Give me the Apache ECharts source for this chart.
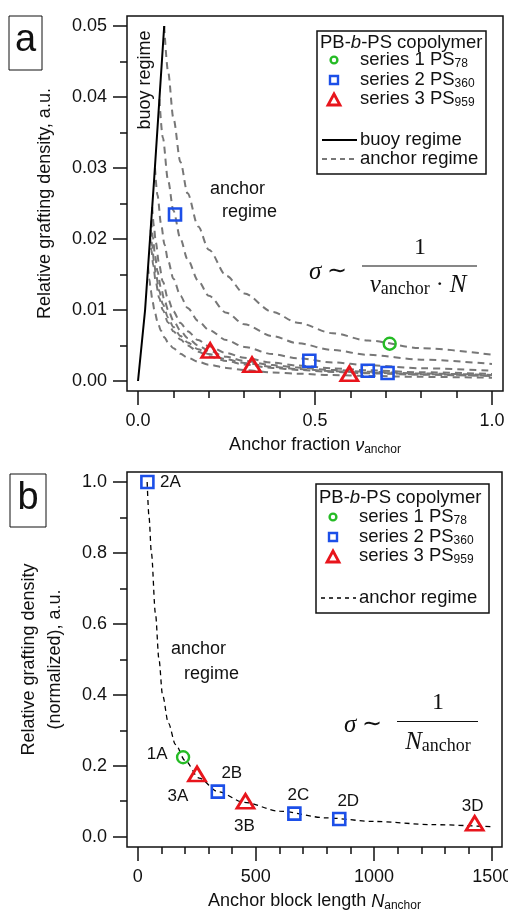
<!DOCTYPE html>
<html>
<head>
<meta charset="utf-8">
<script src="https://cdn.jsdelivr.net/npm/echarts@6/dist/echarts.min.js"></script>
<style>
  html, body { margin: 0; padding: 0; background: #fff; }
  #main { width: 508px; height: 912px; }
</style>
</head>
<body>
<div id="main"></div>
<script>
// ---- panel a data (anchor fraction vs grafting density) ----
var aSeries1 = [[0.711, 0.00525]];
var aSeries2 = [[0.1045, 0.02345], [0.484, 0.00286], [0.649, 0.00145], [0.705, 0.00113]];
var aSeries3 = [[0.204, 0.0043], [0.322, 0.0023], [0.597, 0.00103]];
var aBuoy = [[0, 0], [0.02, 0.01], [0.045, 0.028], [0.074, 0.05]];
// dashed anchor-regime curves
var aCurve1 = [[0.074,0.05],[0.085,0.04353],[0.1,0.037],[0.12,0.03083],[0.14,0.02643],[0.17,0.02176],[0.2,0.0185],[0.25,0.0148],[0.3,0.01233],[0.38,0.00974],[0.45,0.00822],[0.55,0.00673],[0.65,0.00569],[0.8,0.00463],[1.0,0.0037]];
var aCurve2 = [[0.0605,0.0397],[0.07,0.03429],[0.085,0.02824],[0.1,0.024],[0.12,0.02],[0.14,0.01714],[0.17,0.01412],[0.2,0.012],[0.25,0.0096],[0.3,0.008],[0.38,0.00632],[0.45,0.00533],[0.55,0.00436],[0.65,0.00369],[0.8,0.003],[1.0,0.0024]];
var aCurve3 = [[0.048,0.030],[0.055,0.02618],[0.065,0.02215],[0.075,0.0192],[0.085,0.01694],[0.1,0.0144],[0.12,0.012],[0.14,0.01029],[0.17,0.00847],[0.2,0.0072],[0.25,0.00576],[0.3,0.0048],[0.38,0.00379],[0.45,0.0032],[0.55,0.00262],[0.65,0.00222],[0.8,0.0018],[1.0,0.00144]];
var aCurve4 = [[0.040,0.0245],[0.045,0.02178],[0.05,0.0196],[0.06,0.01633],[0.07,0.014],[0.085,0.01153],[0.1,0.0098],[0.12,0.00817],[0.14,0.007],[0.17,0.00576],[0.2,0.0049],[0.25,0.00392],[0.3,0.00327],[0.38,0.00258],[0.45,0.00218],[0.55,0.00178],[0.65,0.00151],[0.8,0.00123],[1.0,0.00098]];
var aCurve5 = [[0.0375,0.0226],[0.042,0.02024],[0.048,0.01771],[0.055,0.01545],[0.065,0.01308],[0.075,0.01133],[0.085,0.01],[0.1,0.0085],[0.12,0.00708],[0.14,0.00607],[0.17,0.005],[0.2,0.00425],[0.25,0.0034],[0.3,0.00283],[0.38,0.00224],[0.45,0.00189],[0.55,0.00155],[0.65,0.00131],[0.8,0.00106],[1.0,0.00085]];
var aCurve6 = [[0.0357,0.0213],[0.04,0.019],[0.045,0.01689],[0.05,0.0152],[0.06,0.01267],[0.07,0.01086],[0.085,0.00894],[0.1,0.0076],[0.12,0.00633],[0.14,0.00543],[0.17,0.00447],[0.2,0.0038],[0.25,0.00304],[0.3,0.00253],[0.38,0.002],[0.45,0.00169],[0.55,0.00138],[0.65,0.00117],[0.8,0.00095],[1.0,0.00076]];
var aCurve7 = [[0.0344,0.0204],[0.038,0.01842],[0.043,0.01628],[0.05,0.014],[0.06,0.01167],[0.07,0.01],[0.085,0.00824],[0.1,0.007],[0.12,0.00583],[0.14,0.005],[0.17,0.00412],[0.2,0.0035],[0.25,0.0028],[0.3,0.00233],[0.38,0.00184],[0.45,0.00156],[0.55,0.00127],[0.65,0.00108],[0.8,0.00088],[1.0,0.0007]];
var aCurve8 = [[0.0285,0.0161],[0.032,0.01438],[0.036,0.01278],[0.041,0.01122],[0.047,0.00979],[0.055,0.00836],[0.065,0.00708],[0.075,0.00613],[0.085,0.00541],[0.1,0.0046],[0.12,0.00383],[0.14,0.00329],[0.17,0.00271],[0.2,0.0023],[0.25,0.00184],[0.3,0.00153],[0.38,0.00121],[0.45,0.00102],[0.55,0.00084],[0.65,0.00071],[0.8,0.00058],[1.0,0.00046]];
var aCurves = [aCurve1, aCurve2, aCurve3, aCurve4, aCurve5, aCurve6, aCurve7, aCurve8];

var aXTicks = [0, 0.5, 1.0];
var aXMinor = [0.1, 0.2, 0.3, 0.4, 0.6, 0.7, 0.8, 0.9];
var aYTicks = [0, 0.01, 0.02, 0.03, 0.04, 0.05];
var aYMinor = [0.005, 0.015, 0.025, 0.035, 0.045];

// ---- panel b data (anchor block length vs normalised density) ----
var bSeries1 = [[192, 0.224]];
var bSeries2 = [[41, 1.0], [339, 0.127], [663, 0.065], [853, 0.050]];
var bSeries3 = [[251, 0.177], [456, 0.100], [1426, 0.038]];
var bNames1 = ['1A'];
var bNames2 = ['2A', '2B', '2C', '2D'];
var bNames3 = ['3A', '3B', '3D'];
var bCurve = [[40,1.0],[48,0.9],[58,0.8],[75,0.63],[90,0.5],[105,0.4],[130,0.32],[160,0.26],[200,0.215],[260,0.165],[340,0.127],[450,0.097],[600,0.072],[800,0.053],[1000,0.043],[1250,0.034],[1500,0.028]];

var bXTicks = [0, 500, 1000, 1500];
var bXMinor = [100, 200, 300, 400, 600, 700, 800, 900, 1100, 1200, 1300, 1400];
var bYTicks = [0, 0.2, 0.4, 0.6, 0.8, 1.0];
var bYMinor = [0.1, 0.3, 0.5, 0.7, 0.9];

var FONT = 'Liberation Sans';
var SERIF = 'Liberation Serif';
var INK = '#111';
var GREEN = '#25bb25', BLUE = '#1c4fe8', RED = '#e8151c';

var chart = echarts.init(document.getElementById('main'));

function majorAxis(grid, min, max, ticks, digits, pos, margin) {
  return {
    type: 'value', gridIndex: grid, min: min, max: max, position: pos,
    axisLine: { show: false, onZero: false }, splitLine: { show: false },
    axisTick: { show: true, customValues: ticks, length: 14, lineStyle: { color: INK, width: 1.5 } },
    axisLabel: {
      customValues: ticks, color: INK, fontFamily: FONT, fontSize: 18, margin: margin,
      formatter: function (v) { return digits < 0 ? String(Math.round(v)) : v.toFixed(digits); }
    }
  };
}
function minorAxis(grid, min, max, ticks, pos) {
  return {
    type: 'value', gridIndex: grid, min: min, max: max, position: pos,
    axisLine: { show: false, onZero: false }, splitLine: { show: false }, axisLabel: { show: false },
    axisTick: { show: true, customValues: ticks, length: 7, lineStyle: { color: INK, width: 1.5 } }
  };
}

var subRich = {
  i: { fontStyle: 'italic', fontSize: 18, fontFamily: FONT, color: INK },
  s: { fontSize: 12, fontFamily: FONT, color: INK, verticalAlign: 'bottom', padding: [9, 0, 0, 0] }
};

var xa0 = majorAxis(0, -0.0311, 1.0311, aXTicks, 1, 'bottom', 21);
xa0.name = 'Anchor fraction {i|ν}{s|anchor}';
xa0.nameLocation = 'middle'; xa0.nameGap = 44;
xa0.nameTextStyle = { fontFamily: FONT, fontSize: 18, color: INK, rich: subRich };
var ya0 = majorAxis(0, -0.00141, 0.05141, aYTicks, 2, 'left', 20);
ya0.name = 'Relative grafting density, a.u.';
ya0.nameLocation = 'middle'; ya0.nameGap = 73;
ya0.nameTextStyle = { fontFamily: FONT, fontSize: 18, color: INK };

var xa1 = majorAxis(1, -45.3, 1541.7, bXTicks, -1, 'bottom', 21);
xa1.name = 'Anchor block length {i|N}{s|anchor}';
xa1.nameLocation = 'middle'; xa1.nameGap = 44;
xa1.nameTextStyle = { fontFamily: FONT, fontSize: 18, color: INK, rich: subRich };
var ya1 = majorAxis(1, -0.029, 1.0282, bYTicks, 1, 'left', 20);
ya1.name = 'Relative grafting density\n(normalized), a.u.';
ya1.nameLocation = 'middle'; ya1.nameGap = 59;
ya1.nameTextStyle = { fontFamily: FONT, fontSize: 18, color: INK, lineHeight: 26 };

function marker(kind) {
  if (kind === 1) return { symbol: 'circle', symbolSize: 12, itemStyle: { color: 'rgba(0,0,0,0)', opacity: 1, borderColor: GREEN, borderWidth: 2.4 } };
  if (kind === 2) return { symbol: 'rect', symbolSize: 12, itemStyle: { color: 'rgba(0,0,0,0)', opacity: 1, borderColor: BLUE, borderWidth: 2.6 } };
  return { symbol: 'triangle', symbolSize: [17, 14], itemStyle: { color: 'rgba(0,0,0,0)', opacity: 1, borderColor: RED, borderWidth: 2.8 } };
}
function scatter(grid, data, kind, names, offsets) {
  var m = marker(kind);
  return {
    type: 'scatter', xAxisIndex: grid * 2, yAxisIndex: grid * 2, z: 5,
    symbol: m.symbol, symbolSize: m.symbolSize, itemStyle: m.itemStyle,
    data: data.map(function (d, i) {
      var item = { value: d };
      if (names) {
        item.label = { show: true, formatter: names[i], position: 'inside', offset: offsets[names[i]],
          color: INK, fontFamily: FONT, fontSize: 17, textBorderWidth: 0 };
      }
      return item;
    })
  };
}
var labelOffsets = {
  '2A': [23, 0], '1A': [-26, -3], '3A': [-19, 22], '2B': [14, -18], '3B': [-1, 25],
  '2C': [4, -18], '2D': [9, -18], '3D': [-2, -17]
};

var series = [];
series.push({
  type: 'line', xAxisIndex: 0, yAxisIndex: 0, data: aBuoy, symbol: 'none', z: 3,
  lineStyle: { color: '#000', width: 2 }
});
aCurves.forEach(function (c) {
  series.push({
    type: 'line', xAxisIndex: 0, yAxisIndex: 0, data: c, symbol: 'none', smooth: 0.3, smoothMonotone: 'x', z: 2,
    lineStyle: { color: '#777', width: 2, type: [7, 5] }
  });
});
series.push(scatter(0, aSeries1, 1));
series.push(scatter(0, aSeries2, 2));
series.push(scatter(0, aSeries3, 3));
series.push({
  type: 'line', xAxisIndex: 2, yAxisIndex: 2, data: bCurve, symbol: 'none', smooth: 0.3, smoothMonotone: 'x', z: 2,
  lineStyle: { color: '#000', width: 1.3, type: [5, 4] }
});
series.push(scatter(1, bSeries1, 1, bNames1, labelOffsets));
series.push(scatter(1, bSeries2, 2, bNames2, labelOffsets));
series.push(scatter(1, bSeries3, 3, bNames3, labelOffsets));

// ---- legend boxes, panel letters, formulas and notes ----
function txt(x, y, text, opt) {
  opt = opt || {};
  return {
    type: 'text', x: x, y: y, rotation: opt.rotation || 0, z: 10,
    style: {
      text: text, fill: INK, fontFamily: opt.family || FONT, fontSize: opt.size || 18,
      fontStyle: opt.italic ? 'italic' : 'normal',
      align: opt.align || 'left', verticalAlign: 'middle', rich: opt.rich
    }
  };
}
var legRich = {
  i: { fontStyle: 'italic', fontSize: 18.5, fontFamily: FONT, fill: INK },
  s: { fontSize: 12, fontFamily: FONT, fill: INK, verticalAlign: 'bottom', padding: [8, 0, 0, 0] }
};
function legendMarks(x, y0, dy) {
  return [
    { type: 'circle', shape: { cx: x, cy: y0, r: 3.4 }, style: { fill: 'none', stroke: GREEN, lineWidth: 2.4 }, z: 10 },
    { type: 'rect', shape: { x: x - 4, y: y0 + dy - 4, width: 8, height: 8 }, style: { fill: 'none', stroke: BLUE, lineWidth: 2.4 }, z: 10 },
    { type: 'polygon', shape: { points: [[x, y0 + 2 * dy - 6], [x + 6, y0 + 2 * dy + 5], [x - 6, y0 + 2 * dy + 5]] }, style: { fill: 'none', stroke: RED, lineWidth: 2.8 }, z: 10 }
  ];
}
function legendBox(x, y, w, h, rows, lines) {
  var g = [{ type: 'rect', shape: { x: x, y: y, width: w, height: h }, style: { fill: '#fff', stroke: INK, lineWidth: 1.5 }, z: 9 }];
  g.push(txt(x + 3, rows[0], 'PB-{i|b}-PS copolymer', { size: 18.5, rich: legRich }));
  g.push(txt(x + 43, rows[1], 'series 1 PS{s|78}', { size: 18.5, rich: legRich }));
  g.push(txt(x + 43, rows[2], 'series 2 PS{s|360}', { size: 18.5, rich: legRich }));
  g.push(txt(x + 43, rows[3], 'series 3 PS{s|959}', { size: 18.5, rich: legRich }));
  g = g.concat(legendMarks(x + 17, rows[1], rows[2] - rows[1]));
  lines.forEach(function (l) {
    g.push({ type: 'line', shape: { x1: x + 5, y1: l.y, x2: x + 40, y2: l.y }, z: 10,
      style: { stroke: l.color, lineWidth: l.width, lineDash: l.dash } });
    g.push(txt(x + 43, l.y, l.text, { size: 18.5 }));
  });
  return g;
}

var graphics = [];
// panel letters
graphics.push({ type: 'rect', shape: { x: 9, y: 16, width: 33, height: 54 }, style: { fill: '#fff', stroke: INK, lineWidth: 1 }, z: 9 });
graphics.push(txt(25.5, 41, 'a', { size: 38, align: 'center' }));
graphics.push({ type: 'rect', shape: { x: 10, y: 474, width: 36, height: 53 }, style: { fill: '#fff', stroke: INK, lineWidth: 1 }, z: 9 });
graphics.push(txt(28, 499, 'b', { size: 38, align: 'center' }));
// legends
graphics = graphics.concat(legendBox(317, 31, 169, 143, [43, 60, 80, 99], [
  { y: 140, text: 'buoy regime', color: '#000', width: 2, dash: null },
  { y: 159, text: 'anchor regime', color: '#777', width: 2, dash: [5, 4] }
]));
graphics = graphics.concat(legendBox(316, 484, 173, 129, [498, 517, 537, 556], [
  { y: 598, text: 'anchor regime', color: '#000', width: 1.3, dash: [4, 4] }
]));
// notes
graphics.push(txt(145, 80, 'buoy regime', { rotation: Math.PI / 2, align: 'center', size: 18 }));
graphics.push(txt(210, 189, 'anchor', { size: 18 }));
graphics.push(txt(222, 212, 'regime', { size: 18 }));
graphics.push(txt(171, 649, 'anchor', { size: 18 }));
graphics.push(txt(184, 674, 'regime', { size: 18 }));
// formulas
var mathRich = {
  i: { fontStyle: 'italic', fontFamily: SERIF, fontSize: 25, fill: INK },
  r: { fontFamily: SERIF, fontSize: 24, fill: INK },
  s: { fontFamily: SERIF, fontSize: 18, fill: INK, verticalAlign: 'bottom', padding: [9, 0, 0, 0] }
};
graphics.push(txt(309, 272, '{i|σ}{r| ∼}', { rich: mathRich }));
graphics.push(txt(420, 248, '{r|1}', { rich: mathRich, align: 'center' }));
graphics.push({ type: 'line', shape: { x1: 362, y1: 266, x2: 477, y2: 266 }, style: { stroke: INK, lineWidth: 1.2 }, z: 10 });
graphics.push(txt(418, 285, '{i|ν}{s|anchor}{r| · }{i|N}', { rich: mathRich, align: 'center' }));
graphics.push(txt(344, 725, '{i|σ}{r| ∼}', { rich: mathRich }));
graphics.push(txt(438, 703, '{r|1}', { rich: mathRich, align: 'center' }));
graphics.push({ type: 'line', shape: { x1: 397, y1: 721.5, x2: 478, y2: 721.5 }, style: { stroke: INK, lineWidth: 1.2 }, z: 10 });
graphics.push(txt(438, 742, '{i|N}{s|anchor}', { rich: mathRich, align: 'center' }));

chart.setOption({
  animation: false,
  backgroundColor: '#fff',
  grid: [
    { left: 127, top: 16, width: 376, height: 375, outerBoundsMode: 'none', containLabel: false,
      show: true, borderColor: INK, borderWidth: 1.5, backgroundColor: 'transparent' },
    { left: 127, top: 472, width: 375, height: 375, outerBoundsMode: 'none', containLabel: false,
      show: true, borderColor: INK, borderWidth: 1.5, backgroundColor: 'transparent' }
  ],
  xAxis: [xa0, minorAxis(0, -0.0311, 1.0311, aXMinor, 'bottom'), xa1, minorAxis(1, -45.3, 1541.7, bXMinor, 'bottom')],
  yAxis: [ya0, minorAxis(0, -0.00141, 0.05141, aYMinor, 'left'), ya1, minorAxis(1, -0.029, 1.0282, bYMinor, 'left')],
  series: series,
  graphic: graphics
});
</script>
</body>
</html>
